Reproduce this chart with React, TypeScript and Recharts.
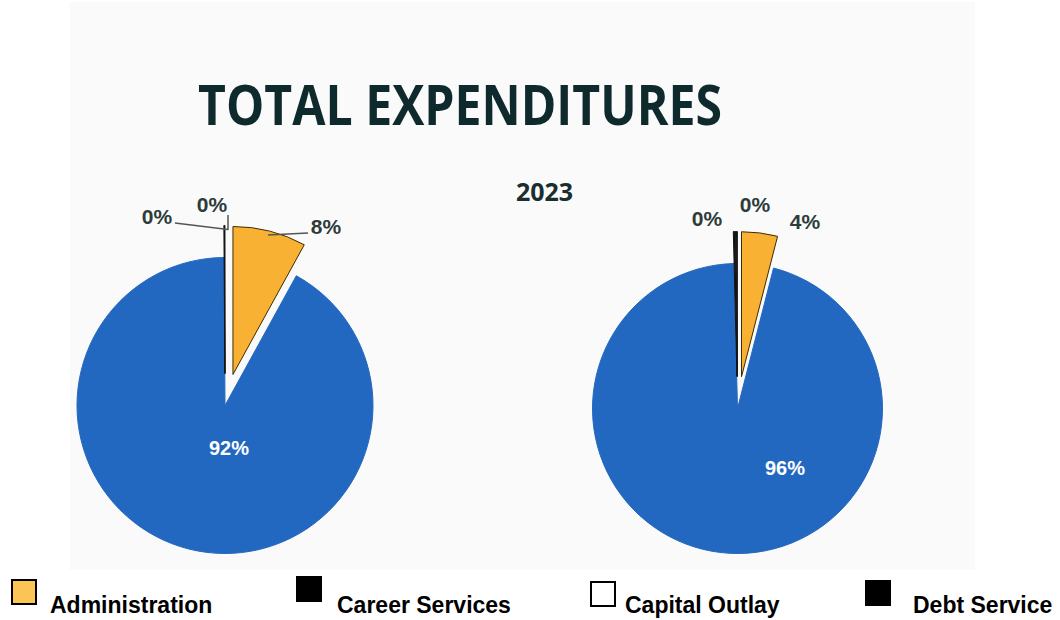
import React from 'react';
import { PieChart, Pie, Cell, Sector } from 'recharts';

// ---- data ----
const categories = ['Administration', 'Instruction', 'Career Services', 'Capital Outlay', 'Debt Service'];
const leftPieValues = [8, 91.9, 0.05, 0, 0.05];
const rightPieValues = [4, 95.6, 0.25, 0, 0.15];
const yearLabel = '2023';
const titleText = 'TOTAL EXPENDITURES';
const legendItems = ['Administration', 'Career Services', 'Capital Outlay', 'Debt Service'];

const leftData = categories.map((name, i) => ({ name, value: leftPieValues[i] }));
const rightData = categories.map((name, i) => ({ name, value: rightPieValues[i] }));

// ---- styles ----
const FILLS: Record<string, string> = {
  Administration: '#f8b133',
  Instruction: '#2368c0',
  'Career Services': '#141414',
  'Capital Outlay': '#ffffff',
  'Debt Service': '#141414',
};
const STROKES: Record<string, string> = {
  Administration: '#3f2c00',
  Instruction: '#2368c0',
  'Career Services': '#141414',
  'Capital Outlay': 'none',
  'Debt Service': '#141414',
};
const LEGEND_FILLS: Record<string, string> = {
  Administration: '#fcc454',
  'Career Services': '#000000',
  'Capital Outlay': '#ffffff',
  'Debt Service': '#000000',
};
const EXPLODED = new Set(['Administration', 'Career Services', 'Capital Outlay', 'Debt Service']);
const EXPLODE_DIST = 32;

type LabelStyle = { dx: number; dy: number; white?: boolean; line?: number[][] };
const LEFT_LABELS: Record<string, LabelStyle> = {
  Administration: { dx: 101, dy: -171.5, line: [[83, -172.5], [43, -170.5]] },
  Instruction: { dx: 4, dy: 49.5, white: true },
  'Career Services': { dx: -68, dy: -181.5, line: [[-50, -182.5], [3, -176]] },
  'Debt Service': { dx: -13, dy: -193.5, line: [[3, -190.5], [3, -175.5]] },
};
const RIGHT_LABELS: Record<string, LabelStyle> = {
  Administration: { dx: 67.5, dy: -179.5 },
  Instruction: { dx: 47.5, dy: 66.5, white: true },
  'Career Services': { dx: -30.5, dy: -182.5 },
  'Debt Service': { dx: 17.5, dy: -196.5 },
};

const FONT = '"Liberation Sans", Arial, Helvetica, sans-serif';

const renderSector = (props: any) => {
  const { cx, cy, midAngle, index } = props;
  const nm = categories[index];
  const d = EXPLODED.has(nm) ? EXPLODE_DIST : 0;
  const rad = (-midAngle * Math.PI) / 180;
  return <Sector {...props} cx={cx + d * Math.cos(rad)} cy={cy + d * Math.sin(rad)} />;
};

const makeLabel = (styles: Record<string, LabelStyle>) => (props: any) => {
  const { cx, cy, percent, index, value } = props;
  const nm = categories[index];
  const st = styles[nm];
  if (!st || value === 0) return null;
  const text = `${Math.round(percent * 100)}%`;
  return (
    <g key={`lbl-${index}`}>
      {st.line && (
        <line
          x1={cx + st.line[0][0]}
          y1={cy + st.line[0][1]}
          x2={cx + st.line[1][0]}
          y2={cy + st.line[1][1]}
          stroke="#555"
          strokeWidth={1.5}
        />
      )}
      <text
        x={cx + st.dx}
        y={cy + st.dy}
        textAnchor="middle"
        fontFamily={FONT}
        fontWeight="bold"
        fontSize={st.white ? 20 : 21}
        fill={st.white ? '#ffffff' : '#2e3b3b'}
      >
        {text}
      </text>
    </g>
  );
};

const legendPos = [
  { sx: 12, sy: 580, tx: 50 },
  { sx: 297, sy: 577, tx: 337 },
  { sx: 591, sy: 582, tx: 625 },
  { sx: 866, sy: 581, tx: 913 },
];

export default function App() {
  return (
    <div style={{ position: 'absolute', left: 0, top: 0, width: 1060, height: 620, background: '#ffffff', overflow: 'hidden' }}>
      <div style={{ position: 'absolute', left: 70, top: 2, width: 905, height: 568, background: '#fafafa' }} />
      <div style={{ position: 'absolute', left: 0, top: 0 }}>
        <PieChart width={1060} height={620} margin={{ top: 0, right: 0, bottom: 0, left: 0 }}>
          <Pie
            data={leftData}
            dataKey="value"
            nameKey="name"
            cx={225}
            cy={405.5}
            outerRadius={148}
            startAngle={90}
            endAngle={-270}
            isAnimationActive={false}
            shape={renderSector}
            label={makeLabel(LEFT_LABELS)}
            labelLine={false}
          >
            {leftData.map((d) => (
              <Cell key={d.name} fill={FILLS[d.name]} stroke={STROKES[d.name]} strokeWidth={1} />
            ))}
          </Pie>
          <Pie
            data={rightData}
            dataKey="value"
            nameKey="name"
            cx={737.5}
            cy={408.5}
            outerRadius={145}
            startAngle={90}
            endAngle={-270}
            isAnimationActive={false}
            shape={renderSector}
            label={makeLabel(RIGHT_LABELS)}
            labelLine={false}
          >
            {rightData.map((d) => (
              <Cell key={d.name} fill={FILLS[d.name]} stroke={STROKES[d.name]} strokeWidth={1} />
            ))}
          </Pie>
        </PieChart>
      </div>
      <svg width={1060} height={620} style={{ position: 'absolute', left: 0, top: 0, pointerEvents: 'none' }}>
        <text
          x={198}
          y={125}
          textLength={524}
          lengthAdjust="spacingAndGlyphs"
          fontFamily='"Open Sans", sans-serif'
          fontWeight="bold"
          fontSize={56}
          fill="#0e2a2d"
        >
          {titleText}
        </text>
        <text x={544.5} y={201} textAnchor="middle" fontFamily='"Open Sans", sans-serif' fontWeight="bold" fontSize={25} fill="#1a2e30">
          {yearLabel}
        </text>
        {legendItems.map((name, i) => (
          <g key={name}>
            <rect
              x={legendPos[i].sx}
              y={legendPos[i].sy}
              width={24}
              height={24}
              fill={LEGEND_FILLS[name]}
              stroke="#000"
              strokeWidth={2}
            />
            <text x={legendPos[i].tx} y={613} fontFamily={FONT} fontWeight="bold" fontSize={23} fill="#000">
              {name}
            </text>
          </g>
        ))}
      </svg>
    </div>
  );
}
